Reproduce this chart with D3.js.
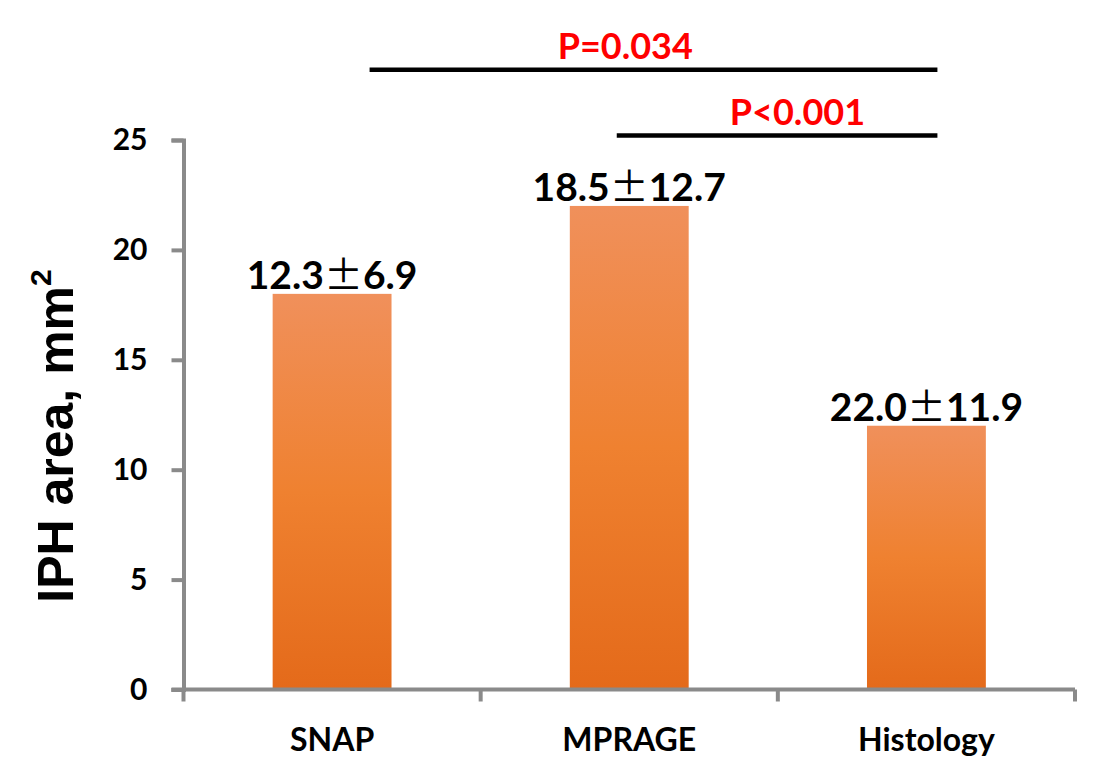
<!DOCTYPE html>
<html>
<head>
<meta charset="utf-8">
<script src="https://cdn.jsdelivr.net/npm/d3@7"></script>
<style>
  body { margin: 0; background: #fff; }
  svg { display: block; }
  .tick text { font-family: Lato, "Open Sans", sans-serif; font-weight: bold; fill: #000; }
</style>
</head>
<body>
<script>
// data
var categories = ["SNAP", "MPRAGE", "Histology"];
var values = [18, 22, 12];
var valueLabels = ["12.3±6.9", "18.5±12.7", "22.0±11.9"];
var yTicks = [0, 5, 10, 15, 20, 25];
var brackets = [
  {from: "SNAP", to: "Histology", level: 28.2, text: "P=0.034"},
  {from: "MPRAGE", to: "Histology", level: 25.2, text: "P<0.001"}
];

var width = 1098, height = 773;
var plot = {left: 183.5, right: 1075, top: 140, bottom: 689.5};

var svg = d3.select("body").append("svg")
    .attr("width", width)
    .attr("height", height);

var x = d3.scaleBand()
    .domain(categories)
    .range([plot.left, plot.right])
    .paddingInner(0.6)
    .paddingOuter(0.3);

var y = d3.scaleLinear()
    .domain([0, 25])
    .range([plot.bottom, plot.top]);

var step = x.step();
function center(c) { return x(c) + x.bandwidth() / 2; }

// gradient for the bars
var grad = svg.append("defs").append("linearGradient")
    .attr("id", "barGrad")
    .attr("x1", 0).attr("y1", 0)
    .attr("x2", 0).attr("y2", 1);
grad.append("stop").attr("offset", "0%").attr("stop-color", "#f0905b");
grad.append("stop").attr("offset", "50%").attr("stop-color", "#ef8130");
grad.append("stop").attr("offset", "100%").attr("stop-color", "#e46a1a");

// bars
svg.selectAll(".bar")
    .data(values)
    .enter()
    .append("rect")
    .attr("class", "bar")
    .attr("x", function(d, i) { return x(categories[i]); })
    .attr("width", x.bandwidth())
    .attr("y", function(d) { return y(d); })
    .attr("height", function(d) { return y(0) - y(d); })
    .attr("fill", "url(#barGrad)");

// value labels, the ± is a full width glyph in the original
var vlab = svg.selectAll(".vlabel")
    .data(values)
    .enter()
    .append("text")
    .attr("class", "vlabel")
    .attr("x", function(d, i) { return center(categories[i]); })
    .attr("y", function(d) { return y(d) - 5; })
    .attr("text-anchor", "middle")
    .style("font-family", "Lato, sans-serif")
    .style("font-weight", "bold")
    .style("font-size", "39px");
vlab.append("tspan").text(function(d, i) { return valueLabels[i].split("±")[0]; });
vlab.append("tspan")
    .style("font-family", "'Noto Sans CJK JP', sans-serif")
    .style("font-weight", "normal")
    .text("±");
vlab.append("tspan").text(function(d, i) { return valueLabels[i].split("±")[1]; });

// y axis
var yAxis = svg.append("g")
    .attr("transform", "translate(" + plot.left + ",0)")
    .call(d3.axisLeft(y).tickValues(yTicks).tickSize(12).tickPadding(24));
yAxis.selectAll("text").style("font-size", "30px");

// x axis
var xEdges = d3.range(categories.length + 1).map(function(i) { return plot.left + i * step; });
var xAxis = svg.append("g")
    .attr("transform", "translate(0," + plot.bottom + ")");
xAxis.append("line")
    .attr("x1", plot.left - 12).attr("x2", plot.right)
    .attr("y1", 0).attr("y2", 0);
xAxis.selectAll(".xtick")
    .data(xEdges)
    .enter()
    .append("line")
    .attr("class", "xtick")
    .attr("x1", function(d) { return d; })
    .attr("x2", function(d) { return d; })
    .attr("y1", 0).attr("y2", 12);
xAxis.selectAll(".xlabel")
    .data(categories)
    .enter()
    .append("text")
    .attr("class", "xlabel")
    .attr("x", function(d) { return center(d); })
    .attr("y", 61)
    .attr("text-anchor", "middle")
    .style("font-family", "Lato, sans-serif")
    .style("font-weight", "bold")
    .style("font-size", "32px")
    .text(function(d) { return d; });

svg.selectAll(".domain, .tick line, g line")
    .attr("stroke", "#8a8a8a")
    .attr("stroke-width", 4);

// y title
var title = svg.append("text")
    .attr("transform", "translate(73," + 436 + ") rotate(-90)")
    .attr("text-anchor", "middle")
    .style("font-family", "'Liberation Sans', Arial, sans-serif")
    .style("font-weight", "bold")
    .style("font-size", "50px");
title.append("tspan").text("IPH area, mm");
title.append("tspan")
    .attr("dy", "-22")
    .style("font-size", "30px")
    .text("2");

// significance brackets
var lineStart = {SNAP: 37.5, MPRAGE: -12.5};
var lineEnd = 11;
var textOffset = [-4, -129];
svg.selectAll(".bracket")
    .data(brackets)
    .enter()
    .append("line")
    .attr("class", "bracket")
    .attr("x1", function(d) { return center(d.from) + lineStart[d.from]; })
    .attr("x2", function(d) { return center(d.to) + lineEnd; })
    .attr("y1", function(d) { return y(d.level); })
    .attr("y2", function(d) { return y(d.level); })
    .attr("stroke", "#000")
    .attr("stroke-width", 4.5);

svg.selectAll(".ptext")
    .data(brackets)
    .enter()
    .append("text")
    .attr("class", "ptext")
    .attr("x", function(d, i) { return i == 0 ? center("MPRAGE") + textOffset[0] : center(d.to) + textOffset[1]; })
    .attr("y", function(d) { return y(d.level) - 11; })
    .attr("text-anchor", "middle")
    .attr("fill", "#ff0000")
    .style("font-family", "Lato, sans-serif")
    .style("font-weight", "bold")
    .style("font-size", "36px")
    .text(function(d) { return d.text; });
</script>
</body>
</html>
